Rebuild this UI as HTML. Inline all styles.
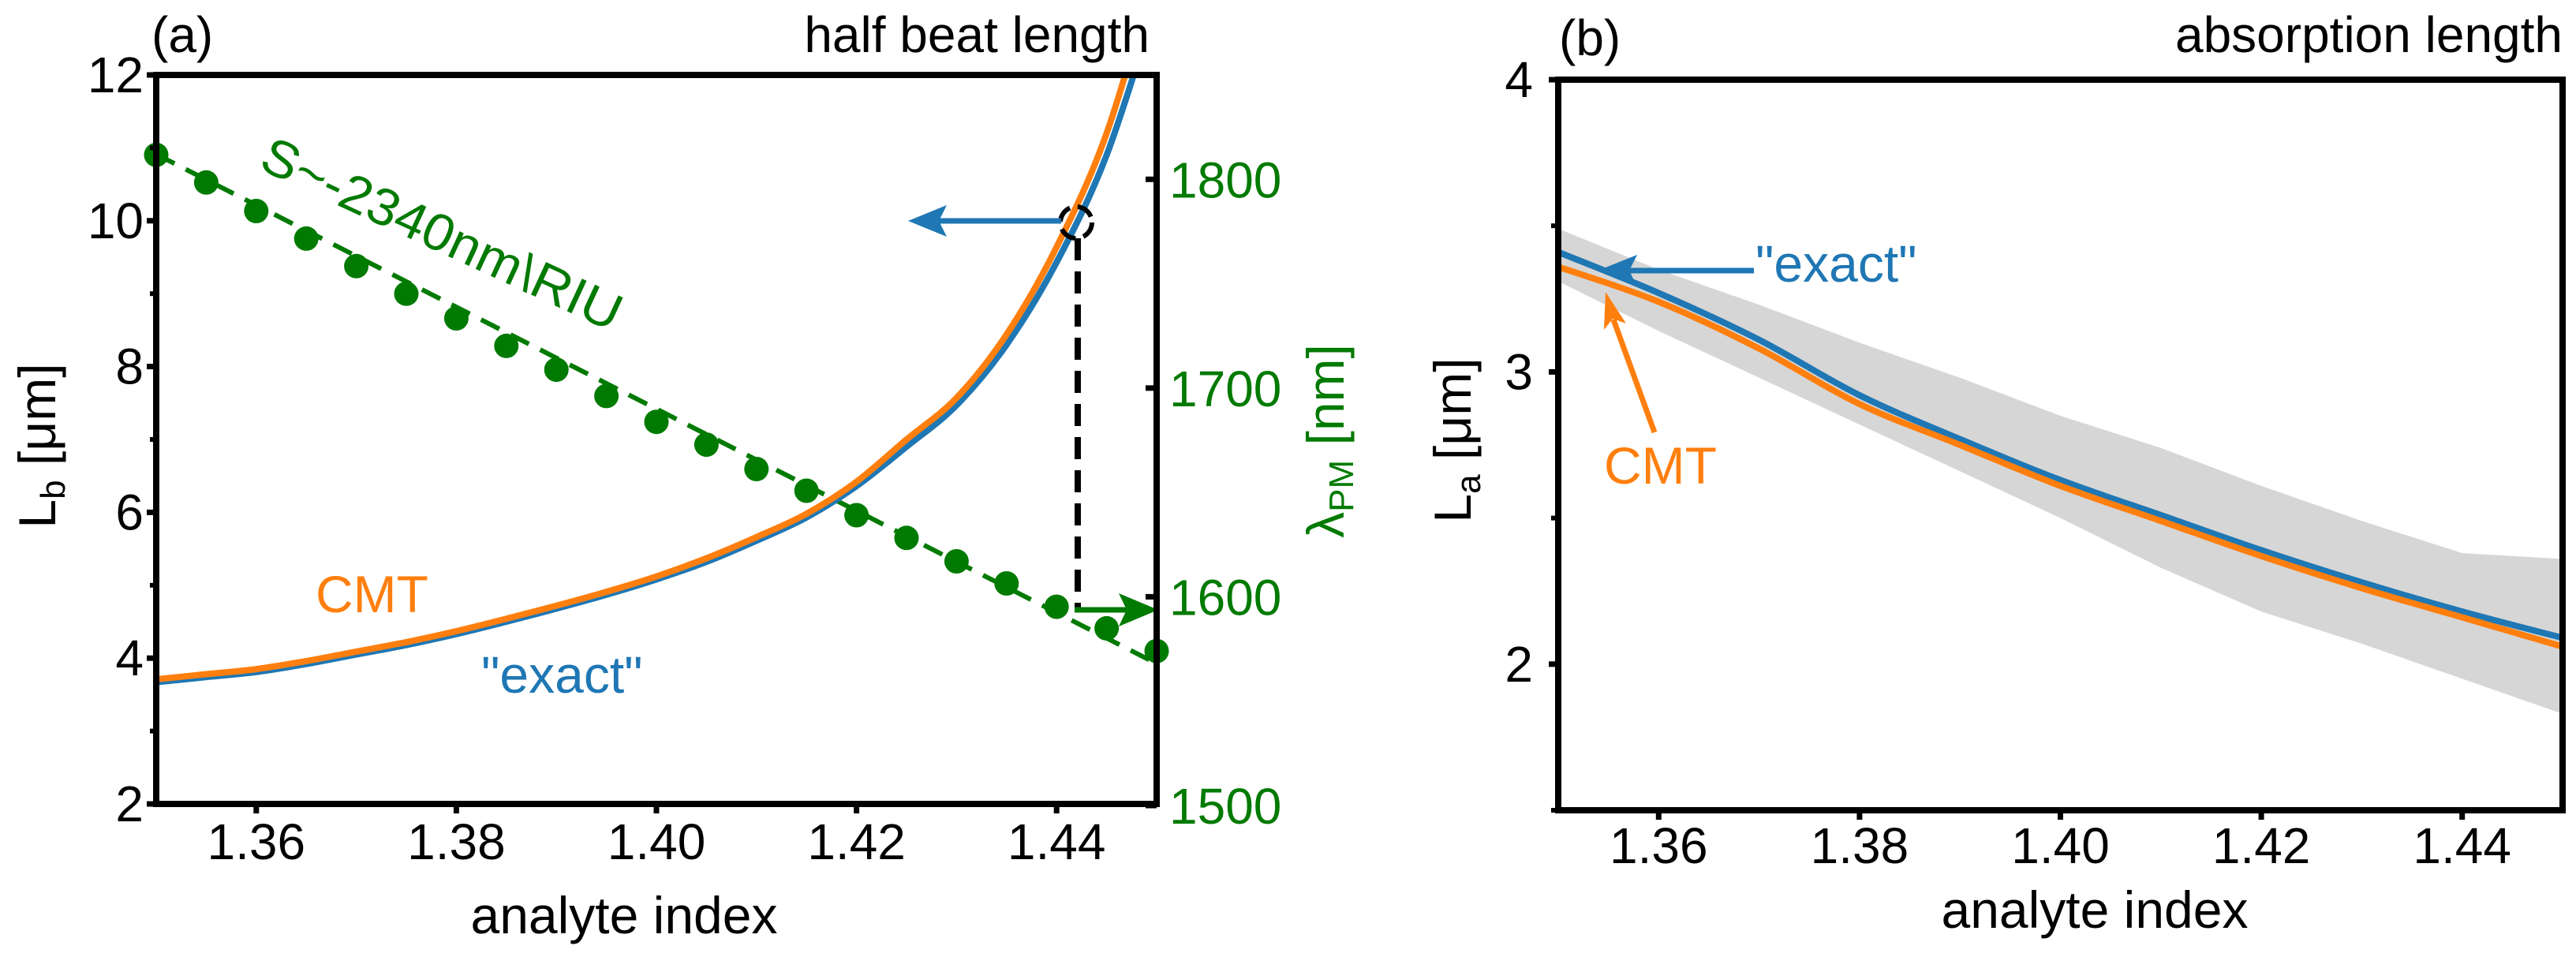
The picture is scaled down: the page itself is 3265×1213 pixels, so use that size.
<!DOCTYPE html>
<html><head><meta charset="utf-8">
<style>
html,body{margin:0;padding:0;background:#fff;}
svg{display:block;font-family:"Liberation Sans",Arial,sans-serif;}
</style></head>
<body>
<svg id="fig" width="3265" height="1213" viewBox="0 0 3265 1213" xmlns="http://www.w3.org/2000/svg">
<defs>
<clipPath id="clipA"><rect x="198" y="95" width="1268" height="924"/></clipPath>
<clipPath id="clipB"><rect x="1975" y="101" width="1273" height="926"/></clipPath>
</defs>
<g id="panelA"></g>
<g id="panelB"></g>
</svg>
<script>
// ---------- data ----------
const nA = [1.35,1.355,1.36,1.365,1.37,1.375,1.38,1.385,1.39,1.395,1.40,1.405,1.41,1.415,1.42,1.425,1.43,1.435,1.44,1.445,1.45];
const lbCMT = [3.71,3.78,3.85,3.96,4.09,4.22,4.37,4.54,4.72,4.91,5.12,5.37,5.66,5.98,6.42,7.0,7.57,8.44,9.64,11.2,13.5];
const lbExact = [3.67,3.74,3.81,3.92,4.05,4.18,4.33,4.50,4.68,4.87,5.08,5.32,5.61,5.93,6.36,6.9,7.47,8.3,9.43,10.9,13.0];
const lambdaPM = [1811.7,1798.5,1784.8,1771.6,1758.4,1745.2,1733.4,1720.2,1708.8,1696.2,1683.8,1672.9,1661.2,1650.8,1639.1,1628.2,1617.0,1606.4,1595.2,1584.9,1574.0];
const fitN = [1.35,1.45];
const fitLambda = [1812,1568];
const xTicks = [1.36,1.38,1.40,1.42,1.44];
const xTickLabels = ["1.36","1.38","1.40","1.42","1.44"];
const yTicksA = [2,4,6,8,10,12];
const yMinorA = [3,5,7,9,11];
const yTicksR = [1500,1600,1700,1800];
const nB = [1.35,1.36,1.37,1.38,1.39,1.40,1.41,1.42,1.43,1.44,1.45];
const laCMT = [3.36,3.24,3.08,2.89,2.75,2.61,2.49,2.37,2.26,2.16,2.06];
const laExact = [3.41,3.27,3.11,2.92,2.77,2.63,2.51,2.39,2.28,2.18,2.09];
const bandUpper = [3.49,3.35,3.23,3.10,2.98,2.85,2.74,2.61,2.49,2.38,2.36];
const bandLower = [3.31,3.14,2.98,2.82,2.66,2.50,2.33,2.18,2.07,1.95,1.83];
const yTicksB = [2,3,4];
const yMinorB = [1.5,2.5,3.5];

const NS = "http://www.w3.org/2000/svg";
function mk(parent, tag, attrs, text){
  const e = document.createElementNS(NS, tag);
  for (const k in attrs) e.setAttribute(k, attrs[k]);
  if (text !== undefined) e.textContent = text;
  parent.appendChild(e); return e;
}
const ORANGE="#ff7f0e", BLUE="#1f77b4", GREEN="#007a00";

function poly(xs, ys, fx, fy){ return xs.map((x,i)=>fx(x).toFixed(1)+","+fy(ys[i]).toFixed(1)).join(" "); }
function smooth(xs, ys, fx, fy){
  const p = xs.map((x,i)=>[fx(x), fy(ys[i])]);
  let d = "M"+p[0][0].toFixed(1)+","+p[0][1].toFixed(1);
  for (let i=0;i<p.length-1;i++){
    const p0=p[Math.max(0,i-1)], p1=p[i], p2=p[i+1], p3=p[Math.min(p.length-1,i+2)];
    const c1=[p1[0]+(p2[0]-p0[0])/6, p1[1]+(p2[1]-p0[1])/6];
    const c2=[p2[0]-(p3[0]-p1[0])/6, p2[1]-(p3[1]-p1[1])/6];
    d += " C"+c1[0].toFixed(1)+","+c1[1].toFixed(1)+" "+c2[0].toFixed(1)+","+c2[1].toFixed(1)+" "+p2[0].toFixed(1)+","+p2[1].toFixed(1);
  }
  return d;
}

// ---------- panel A ----------
const A = document.getElementById('panelA');
const ax = v => 198 + (v-1.35)/0.1*1268;
const ayL = v => 1019 - (v-2)/10*924;
const ayR = v => 1021 - (v-1500)/350*926;

const clipGA = mk(A,'g',{'clip-path':'url(#clipA)'});


let el = mk(clipGA,'polyline',{points:poly(fitN,fitLambda,ax,ayR),fill:'none',stroke:GREEN,'stroke-width':6,'stroke-dasharray':'26 16'});


lambdaPM.forEach((v,i)=>{
  const c = mk(A,'circle',{cx:ax(nA[i]).toFixed(1),cy:ayR(v).toFixed(1),r:15.5,fill:GREEN});
  
  
});
el = mk(clipGA,'path',{d:smooth(nA,lbExact,ax,ayL),fill:'none',stroke:BLUE,'stroke-width':8,'stroke-linejoin':'round'});


el = mk(clipGA,'path',{d:smooth(nA,lbCMT,ax,ayL),fill:'none',stroke:ORANGE,'stroke-width':8,'stroke-linejoin':'round'});



// annotations A
el = mk(A,'circle',{cx:1364,cy:282,r:20,fill:'none',stroke:'#000','stroke-width':6,'stroke-dasharray':'22 10'});


el = mk(A,'line',{x1:1345,y1:280,x2:1185,y2:280,stroke:BLUE,'stroke-width':7});


mk(A,'polygon',{points:'1151,280 1200,260 1190,280 1200,300',fill:BLUE});
el = mk(A,'line',{x1:1366,y1:302,x2:1366,y2:773,stroke:'#000','stroke-width':8,'stroke-dasharray':'28 14'});


el = mk(A,'line',{x1:1362,y1:773,x2:1430,y2:773,stroke:GREEN,'stroke-width':7});


mk(A,'polygon',{points:'1468,773 1418,752 1428,773 1418,794',fill:GREEN});
el = mk(A,'text',{x:400,y:776,'font-size':66,fill:ORANGE},'CMT');


el = mk(A,'text',{x:610,y:878,'font-size':66,fill:BLUE},'"exact"');


el = mk(A,'text',{x:0,y:0,'font-size':66,fill:GREEN,transform:'translate(326,213) rotate(24.8)',textLength:495,lengthAdjust:'spacingAndGlyphs'},'S~-2340nm\\RIU');



// axes A
el = mk(A,'rect',{x:198,y:95,width:1268,height:924,fill:'none',stroke:'#000','stroke-width':8});


xTicks.forEach((v,i)=>{
  mk(A,'line',{x1:ax(v),y1:1019,x2:ax(v),y2:1031,stroke:'#000','stroke-width':7});
  const t = mk(A,'text',{x:ax(v),y:1089,'font-size':64,'text-anchor':'middle'},xTickLabels[i]);
  
  
});
yTicksA.forEach(v=>{
  mk(A,'line',{x1:186,y1:ayL(v),x2:198,y2:ayL(v),stroke:'#000','stroke-width':7});
  const t = mk(A,'text',{x:182,y:ayL(v)+22,'font-size':64,'text-anchor':'end'},String(v));
  
  
});
yMinorA.forEach(v=>mk(A,'line',{x1:190,y1:ayL(v),x2:198,y2:ayL(v),stroke:'#000','stroke-width':6}));
yTicksR.forEach(v=>{
  mk(A,'line',{x1:1452,y1:ayR(v),x2:1466,y2:ayR(v),stroke:'#000','stroke-width':7});
  const t = mk(A,'text',{x:1482,y:ayR(v)+23,'font-size':64,fill:GREEN},String(v));
  
  
});
el = mk(A,'text',{x:791,y:1183,'font-size':66,'text-anchor':'middle'},'analyte index');


el = mk(A,'text',{x:0,y:0,'font-size':66,'text-anchor':'middle',transform:'translate(70,565) rotate(-90)'});


mk(el,'tspan',{},'L');mk(el,'tspan',{'font-size':44,dy:12},'b');mk(el,'tspan',{dy:-12},' [μm]');
el = mk(A,'text',{x:0,y:0,'font-size':66,fill:GREEN,'text-anchor':'middle',transform:'translate(1703,559) rotate(-90)'});


mk(el,'tspan',{},'λ');mk(el,'tspan',{'font-size':44,dy:12},'PM');mk(el,'tspan',{dy:-12},' [nm]');
el = mk(A,'text',{x:192,y:66,'font-size':64},'(a)');


el = mk(A,'text',{x:1457,y:66,'font-size':64,'text-anchor':'end'},'half beat length');



// ---------- panel B ----------
const B = document.getElementById('panelB');
const bx = v => 1975 + (v-1.35)/0.1*1273;
const by = v => 1027 - (v-1.5)/2.5*926;
const clipGB = mk(B,'g',{'clip-path':'url(#clipB)'});


const bandPts = nB.map((n,i)=>bx(n).toFixed(1)+","+by(bandUpper[i]).toFixed(1))
  .concat(nB.slice().reverse().map((n,j)=>{const i=nB.length-1-j;return bx(n).toFixed(1)+","+by(bandLower[i]).toFixed(1);})).join(" ");
el = mk(clipGB,'polygon',{points:bandPts,fill:'#d6d6d6'});


el = mk(clipGB,'path',{d:smooth(nB,laExact,bx,by),fill:'none',stroke:BLUE,'stroke-width':8,'stroke-linejoin':'round'});


el = mk(clipGB,'path',{d:smooth(nB,laCMT,bx,by),fill:'none',stroke:ORANGE,'stroke-width':8,'stroke-linejoin':'round'});



el = mk(B,'line',{x1:2223,y1:343,x2:2060,y2:343,stroke:BLUE,'stroke-width':7});


mk(B,'polygon',{points:'2025,343 2075,323 2065,343 2075,363',fill:BLUE});
el = mk(B,'line',{x1:2097,y1:548,x2:2045,y2:405,stroke:ORANGE,'stroke-width':7});


mk(B,'polygon',{points:'2035,370 2033,418 2044,404 2061,410',fill:ORANGE});
el = mk(B,'text',{x:2225,y:357,'font-size':66,fill:BLUE},'"exact"');


el = mk(B,'text',{x:2033,y:613,'font-size':66,fill:ORANGE},'CMT');



el = mk(B,'rect',{x:1975,y:101,width:1273,height:926,fill:'none',stroke:'#000','stroke-width':8});


xTicks.forEach((v,i)=>{
  mk(B,'line',{x1:bx(v),y1:1027,x2:bx(v),y2:1039,stroke:'#000','stroke-width':7});
  const t = mk(B,'text',{x:bx(v),y:1094,'font-size':64,'text-anchor':'middle'},xTickLabels[i]);
  
  
});
yTicksB.forEach(v=>{
  mk(B,'line',{x1:1963,y1:by(v),x2:1975,y2:by(v),stroke:'#000','stroke-width':7});
  const t = mk(B,'text',{x:1943,y:by(v)+22,'font-size':64,'text-anchor':'end'},String(v));
  
  
});
yMinorB.forEach(v=>mk(B,'line',{x1:1966,y1:by(v),x2:1975,y2:by(v),stroke:'#000','stroke-width':6}));
el = mk(B,'text',{x:2655,y:1176,'font-size':66,'text-anchor':'middle'},'analyte index');


el = mk(B,'text',{x:0,y:0,'font-size':66,'text-anchor':'middle',transform:'translate(1864,558) rotate(-90)'});


mk(el,'tspan',{},'L');mk(el,'tspan',{'font-size':44,dy:12},'a');mk(el,'tspan',{dy:-12},' [μm]');
el = mk(B,'text',{x:1976,y:70,'font-size':64},'(b)');


el = mk(B,'text',{x:3248,y:66,'font-size':64,'text-anchor':'end'},'absorption length');


</script>
</body></html>
